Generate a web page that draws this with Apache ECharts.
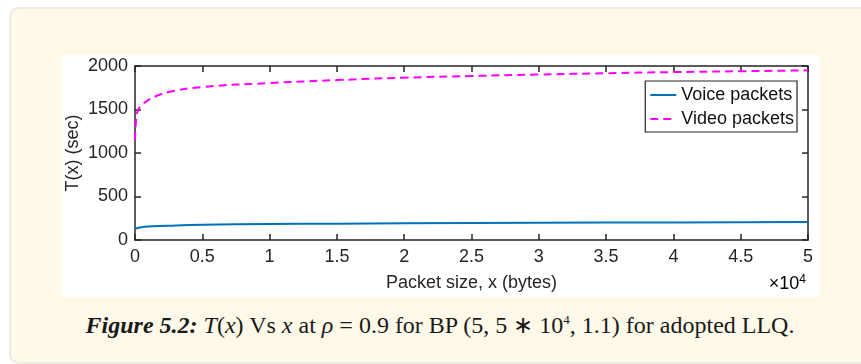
<!DOCTYPE html>
<html lang="en">
<head>
  <meta charset="UTF-8">
  <title>T(x) Vs x</title>
  <style>
    html, body {
      margin: 0;
      padding: 0;
      width: 861px;
      height: 364px;
      background: #ffffff;
      overflow: hidden;
    }
    .box {
      position: absolute;
      left: 9px;
      top: 7px;
      width: 880px;
      height: 353px;
      background: #fef9e8;
      border: 2px solid #efebe0;
      border-radius: 10px;
    }
    #chart {
      position: absolute;
      left: 62px;
      top: 55px;
      width: 758px;
      height: 242px;
      background: #ffffff;
    }
    .caption {
      position: absolute;
      left: 0;
      width: 880px;
      top: 311px;
      text-align: center;
      font-family: "Liberation Serif", serif;
      font-size: 24px;
      color: #1a1a1a;
      white-space: nowrap;
    }
    .caption sup { font-size: 13px; }
  </style>
  <script src="https://cdn.jsdelivr.net/npm/echarts@6/dist/echarts.min.js"></script>
</head>
<body>
  <div class="box"></div>
  <div id="chart"></div>
  <div class="caption"><b><i>Figure 5.2:</i></b> <i>T</i>(<i>x</i>) Vs <i>x</i> at <i>ρ</i> = 0.9 for BP (5, 5 ∗ 10<sup>4</sup>, 1.1) for adopted LLQ.</div>
  <script>
    // values
    const seriesNames = ['Voice packets', 'Video packets'];
    const voiceX = [0, 250, 500, 1000, 2500, 5000, 10000, 15000, 20000, 30000, 40000, 50000];
    const voiceY = [125, 140, 148, 155, 165, 175, 183, 188, 192, 198, 202, 206];
    const videoX = [0, 100, 250, 500, 1000, 1500, 2500, 5000, 10000, 15000, 20000, 25000, 30000, 35000, 40000, 45000, 50000];
    const videoY = [1150, 1400, 1500, 1550, 1610, 1650, 1700, 1758, 1804, 1838, 1866, 1885, 1902, 1917, 1930, 1940, 1950];

    const axisColor = '#262626';
    const font = 'Liberation Sans';
    const fs = 18;

    var myChart = echarts.init(document.getElementById('chart'));

    const zip = (xs, ys) => xs.map((x, i) => [x, ys[i]]);

    const tickStyle = { inside: true, length: 6, lineStyle: { color: axisColor, width: 1.5 } };
    const lineStyleAxis = { show: true, onZero: false, lineStyle: { color: axisColor, width: 1.5 } };

    let option = {
      animation: false,
      grid: { left: 73, top: 11, right: 12, bottom: 57, containLabel: false, outerBoundsMode: 'none' },
      legend: {
        orient: 'vertical',
        right: 23,
        top: 26,
        itemWidth: 26,
        itemHeight: 10,
        itemGap: 6,
        padding: [5, 3, 4, 4],
        backgroundColor: '#ffffff',
        borderColor: axisColor,
        borderWidth: 1.2,
        borderRadius: 0,
        itemStyle: { opacity: 0 },
        textStyle: { fontFamily: font, fontSize: 18, color: '#111' },
        data: seriesNames
      },
      xAxis: [{
        type: 'value',
        min: 0,
        max: 50000,
        interval: 5000,
        name: 'Packet size, x (bytes)',
        nameLocation: 'middle',
        nameGap: 34,
        nameMoveOverlap: false,
        nameTextStyle: { fontFamily: font, fontSize: fs, color: axisColor },
        axisLine: lineStyleAxis,
        axisTick: tickStyle,
        splitLine: { show: false },
        axisLabel: {
          margin: 8,
          fontFamily: font,
          fontSize: fs,
          color: axisColor,
          formatter: v => String(v / 10000)
        }
      }, {
        type: 'value',
        position: 'top',
        min: 0,
        max: 50000,
        interval: 5000,
        axisLine: lineStyleAxis,
        axisTick: tickStyle,
        axisLabel: { show: false },
        splitLine: { show: false }
      }],
      yAxis: [{
        type: 'value',
        min: 0,
        max: 2000,
        interval: 500,
        name: 'T(x) (sec)',
        nameLocation: 'middle',
        nameGap: 53,
        nameMoveOverlap: false,
        nameTextStyle: { fontFamily: font, fontSize: fs, color: axisColor },
        axisLine: lineStyleAxis,
        axisTick: tickStyle,
        splitLine: { show: false },
        axisLabel: { margin: 7, fontFamily: font, fontSize: fs, color: axisColor, formatter: v => String(v) }
      }, {
        type: 'value',
        position: 'right',
        min: 0,
        max: 2000,
        interval: 500,
        axisLine: lineStyleAxis,
        axisTick: tickStyle,
        axisLabel: { show: false },
        splitLine: { show: false }
      }],
      graphic: [{
        type: 'text',
        right: 14,
        top: 219,
        style: {
          text: '{a|×10}{b|4}',
          rich: {
            a: { fontFamily: font, fontSize: fs, color: axisColor },
            b: { fontFamily: font, fontSize: 12, color: axisColor, verticalAlign: 'top', padding: [0, 0, 9, 0] }
          }
        }
      }],
      series: [{
        name: seriesNames[0],
        type: 'line',
        symbol: 'none',
        smooth: true,
        lineStyle: { color: '#0072BD', width: 2 },
        itemStyle: { color: '#0072BD' },
        data: zip(voiceX, voiceY)
      }, {
        name: seriesNames[1],
        type: 'line',
        symbol: 'none',
        smooth: true,
        lineStyle: { color: '#FF00FF', width: 2, type: [8, 5] },
        itemStyle: { color: '#FF00FF' },
        data: zip(videoX, videoY)
      }]
    };

    myChart.setOption(option);
  </script>
</body>
</html>
